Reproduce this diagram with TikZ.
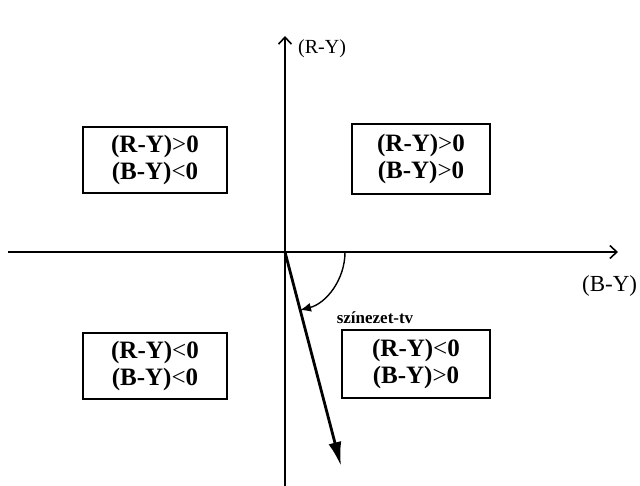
\documentclass[tikz,border=0pt]{standalone}
\usepackage{fontspec}
\setmainfont{Liberation Serif}
\usetikzlibrary{arrows.meta}
\tikzset{
  quadbox/.style={draw, line width=1.2pt, align=center, inner sep=0pt,
    font=\bfseries\fontsize{25}{27}\selectfont},
  axis/.style={line width=2.6pt},
  axistip/.style={-{Straight Barb[length=7pt,width=13pt,line width=1.6pt]}},
  axlabel/.style={inner sep=0pt, anchor=west},
}
\begin{document}
\begin{tikzpicture}[x=1pt,y=-1pt]
\useasboundingbox[fill=white] (0,0) rectangle (640,486);
\coordinate (O) at (285,252);
\coordinate (L) at (8,252);
\coordinate (R) at (618,252);
\coordinate (T) at (285,36);
\coordinate (B) at (285,486);
\coordinate (V) at (341,466);
\coordinate (A0) at (345,252);
\draw[axis, axistip] (L) -- (R);
\draw[axis, axistip] (B) -- (T);
\draw[line width=2.8pt, -{Latex[length=24pt,width=13pt]}] (O) -- (V);
\draw[line width=1.4pt, -{Latex[length=11pt,width=9pt]}] (A0) arc[start angle=0, end angle=75.5, radius=60];
\draw[line width=2pt] (338,252) -- (352,252);
\node[axlabel, font=\fontsize{20}{22}\selectfont] (ry) at (298,49) {(R-Y)};
\node[axlabel, font=\fontsize{23}{25}\selectfont] (by) at (582,286) {(B-Y)};
\node[inner sep=0pt, font=\bfseries\fontsize{17}{19}\selectfont] (hue) at (375,318) {színezet-tv};
\node[quadbox, minimum width=144pt, minimum height=66pt] (tl) at (155,160) {(R-Y){\mdseries>}0\\(B-Y){\mdseries<}0};
\node[quadbox, minimum width=138pt, minimum height=70pt] (tr) at (421,159) {(R-Y){\mdseries>}0\\(B-Y){\mdseries>}0};
\node[quadbox, minimum width=144pt, minimum height=66pt] (bl) at (155,366) {(R-Y){\mdseries<}0\\(B-Y){\mdseries<}0};
\node[quadbox, minimum width=148pt, minimum height=68pt] (br) at (416,364) {(R-Y){\mdseries<}0\\(B-Y){\mdseries>}0};
\end{tikzpicture}
\end{document}
